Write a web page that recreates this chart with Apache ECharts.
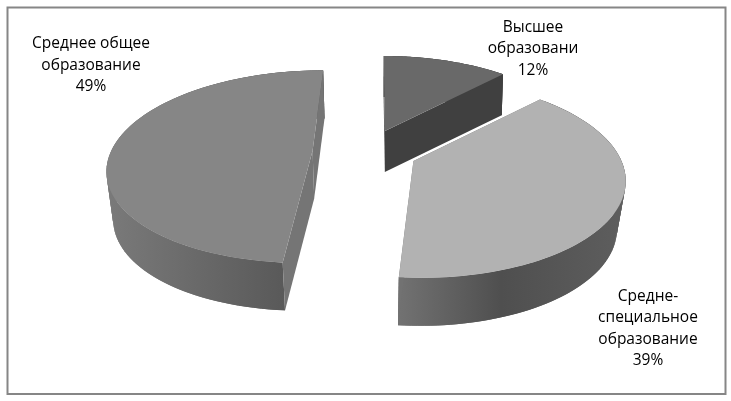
<!DOCTYPE html>
<html>
<head>
<meta charset="utf-8">
<style>html,body{margin:0;padding:0;background:#fff}#c{width:731px;height:401px}</style>
<script src="https://cdn.jsdelivr.net/npm/echarts@6/dist/echarts.min.js"></script>
</head>
<body>
<div id="c"></div>
<script>
const categories = ['Высшее\nобразовани', 'Средне-\nспециальное\nобразование', 'Среднее общее\nобразование'];
const values = [12, 39, 49];

// Projection of the tilted pie
const vx = 376, vy = 161, radiusY = 97, persp = 0.17;
const radiusX = [205, 208, 205];
// Exploded offset of each slice in pie radii
const explodeX = [0.046, 0.18, -0.315];
const explodeY = [0.326, 0, 0.11];
const twistDeg = [0, 1.5, 0.5];
const wallDepth = [41, 48, 48];
const bottomShrink = [0.99, 0.965, 0.975];
const topColors = ['#696969', '#b2b2b2', '#868686'];
const cutColors = ['#404040', '#727272', '#757575'];
const wallStops = [
  [[0, '#404040'], [1, '#404040']],
  [[0, '#727272'], [0.45, '#4f4f4f'], [1, '#5e5e5e']],
  [[0, '#7a7a7a'], [1, '#525252']]
];
const labelX = [533, 648, 91];
const labelY = [49, 328.5, 65.5];

const total = values.reduce((a, b) => a + b, 0);

function project(i, theta, radial) {
  const X = explodeX[i] + radial * Math.sin(theta);
  const Y = explodeY[i] + radial * Math.cos(theta);
  const w = 1 + persp * Y;
  return [vx + radiusX[i] * X / w, vy - radiusY * Y / w];
}
function lower(i, p) {
  return [vx + bottomShrink[i] * (p[0] - vx), p[1] + wallDepth[i]];
}

function renderItem(params, api) {
  const i = params.dataIndex;
  let before = 0;
  for (let k = 0; k < i; k++) before += values[k];
  const twist = twistDeg[i] * Math.PI / 180;
  const a0 = before / total * 2 * Math.PI + twist;
  const a1 = (before + api.value(0)) / total * 2 * Math.PI + twist;
  const arc = [];
  const n = 90;
  for (let k = 0; k <= n; k++) arc.push(project(i, a0 + (a1 - a0) * k / n, 1));
  const apex = project(i, 0, 0);
  const low = lower(i, apex);
  const polygon = (pts, fill, z) => ({
    type: 'polygon', z2: z,
    shape: { points: pts },
    style: { fill: fill, stroke: null }
  });
  const xs = arc.map(p => p[0]);
  const wallFill = new echarts.graphic.LinearGradient(
    Math.min.apply(null, xs), 0, Math.max.apply(null, xs), 0,
    wallStops[i].map(s => ({ offset: s[0], color: s[1] })), true);
  const first = arc[0], last = arc[n];
  const children = [];
  // The wall is a run of overlapping strips so its silhouette is a true extrusion
  for (let k = 0; k < n; k++) {
    const end = Math.min(k + 2, n);
    children.push(polygon([arc[k], arc[end], lower(i, arc[end]), lower(i, arc[k])], wallFill, 1));
  }
  children.push(
    polygon([apex, first, lower(i, first), low], cutColors[i], 2),
    polygon([apex, last, lower(i, last), low], cutColors[i], 2),
    polygon([apex].concat(arc), topColors[i], 3),
    {
      type: 'text', z2: 5,
      style: {
        x: labelX[i], y: labelY[i],
        text: categories[i] + '\n' + api.value(0) + '%',
        align: 'center', verticalAlign: 'middle',
        textAlign: 'center', textVerticalAlign: 'middle',
        font: '15.5px "Open Sans"', lineHeight: 21.5, fill: '#000'
      }
    }
  );
  return { type: 'group', children: children };
}

const chart = echarts.init(document.getElementById('c'), null, { renderer: 'canvas' });
chart.setOption({
  animation: false,
  backgroundColor: '#fff',
  graphic: [{
    type: 'rect', silent: true, z: -1,
    shape: { x: 7.5, y: 7.5, width: 718, height: 386.5 },
    style: { fill: '#fff', stroke: '#868686', lineWidth: 2 }
  }],
  series: [{
    type: 'custom',
    coordinateSystem: 'none',
    renderItem: renderItem,
    data: values.map((v, i) => ({ name: categories[i], value: [v] }))
  }]
});
</script>
</body>
</html>
